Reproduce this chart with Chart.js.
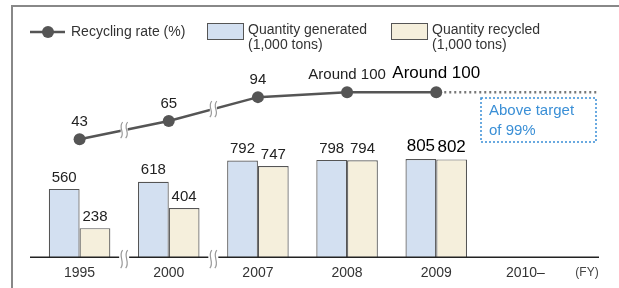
<!DOCTYPE html>
<html>
<head>
<meta charset="utf-8">
<script src="https://cdn.jsdelivr.net/npm/chart.js@4/dist/chart.umd.min.js"></script>
<style>
  html, body { margin: 0; padding: 0; background: #fff; }
  #wrap { width: 619px; height: 288px; position: relative; }
</style>
</head>
<body>
<div id="wrap"><canvas id="chart"></canvas></div>
<script>
// données du graphique
const years = ['1995', '2000', '2007', '2008', '2009', '2010\u2013'];
const generated = [560, 618, 792, 798, 805, null];
const recycled = [238, 404, 747, 794, 802, null];
const rate = [43, 65, 94, 100, 100, null];
const rateLabels = ['43', '65', '94', 'Around 100', 'Around 100'];

const FONT = '"Liberation Sans", Arial, sans-serif';

// cadre + légende dessinés à la main
const decorPlugin = {
  id: 'decor',
  beforeDraw(chart) {
    const ctx = chart.ctx;
    ctx.save();
    ctx.fillStyle = '#fff';
    ctx.fillRect(0, 0, chart.width, chart.height);
    // cadre gris
    ctx.strokeStyle = '#888';
    ctx.lineWidth = 2;
    ctx.beginPath();
    ctx.moveTo(12, 300);
    ctx.lineTo(12, 6);
    ctx.lineTo(640, 6);
    ctx.stroke();

    // légende
    ctx.strokeStyle = '#555';
    ctx.lineWidth = 2.5;
    ctx.beginPath();
    ctx.moveTo(30, 32);
    ctx.lineTo(65, 32);
    ctx.stroke();
    ctx.fillStyle = '#555';
    ctx.beginPath();
    ctx.arc(48, 32, 6, 0, Math.PI * 2);
    ctx.fill();

    ctx.font = '14px ' + FONT;
    ctx.fillStyle = '#333';
    ctx.textBaseline = 'middle';
    ctx.textAlign = 'left';
    ctx.fillText('Recycling rate (%)', 71, 32);

    ctx.lineWidth = 1;
    ctx.strokeStyle = '#555';
    ctx.fillStyle = '#d3e0f1';
    ctx.fillRect(207.5, 23.5, 36, 16);
    ctx.strokeRect(207.5, 23.5, 36, 16);
    ctx.fillStyle = '#333';
    ctx.fillText('Quantity generated', 248, 30);
    ctx.fillText('(1,000 tons)', 248, 45);

    ctx.fillStyle = '#f5efdc';
    ctx.fillRect(391.5, 23.5, 36, 16);
    ctx.strokeRect(391.5, 23.5, 36, 16);
    ctx.fillStyle = '#333';
    ctx.fillText('Quantity recycled', 432, 30);
    ctx.fillText('(1,000 tons)', 432, 45);
    ctx.restore();
  },
  afterDatasetsDraw(chart) {
    const ctx = chart.ctx;
    const area = chart.chartArea;
    const xs = chart.scales.x;
    const base = area.bottom;
    ctx.save();

    // ligne de base
    ctx.strokeStyle = '#222';
    ctx.lineWidth = 1.5;
    ctx.beginPath();
    ctx.moveTo(30, base);
    ctx.lineTo(599, base);
    ctx.stroke();

    // (FY)
    ctx.font = '12px ' + FONT;
    ctx.fillStyle = '#444';
    ctx.textAlign = 'center';
    ctx.textBaseline = 'middle';
    ctx.fillText('(FY)', 587, 273);

    // pointillés après 2009
    const lineMeta = chart.getDatasetMeta(2);
    const p2009 = lineMeta.data[4];
    ctx.strokeStyle = '#777';
    ctx.lineWidth = 2.5;
    ctx.setLineDash([2, 3]);
    ctx.beginPath();
    ctx.moveTo(p2009.x + 8, p2009.y);
    ctx.lineTo(597, p2009.y);
    ctx.stroke();

    // encadré objectif
    ctx.strokeStyle = '#3a8fd6';
    ctx.lineWidth = 1.5;
    ctx.setLineDash([2, 2]);
    ctx.strokeRect(481, 98, 115, 44);
    ctx.setLineDash([]);
    ctx.fillStyle = '#3a8fd6';
    ctx.font = '15px ' + FONT;
    ctx.textAlign = 'left';
    ctx.fillText('Above target', 489, 111);
    ctx.fillText('of 99%', 489, 131);

    // cassures d'échelle
    function squiggle(x, y, h) {
      ctx.strokeStyle = '#fff';
      ctx.lineWidth = 7;
      ctx.beginPath();
      ctx.moveTo(x, y - 3);
      ctx.lineTo(x, y + 3);
      ctx.stroke();
      ctx.strokeStyle = '#999';
      ctx.lineWidth = 1.2;
      [-2.5, 2.5].forEach(function (dx) {
        ctx.beginPath();
        ctx.moveTo(x + dx + 1, y - h);
        ctx.bezierCurveTo(x + dx - 4, y - h / 3, x + dx + 4, y + h / 3, x + dx - 1, y + h);
        ctx.stroke();
      });
    }
    const pts = lineMeta.data;
    for (let k = 0; k < 2; k++) {
      const mx = (pts[k].x + pts[k + 1].x) / 2;
      const my = (pts[k].y + pts[k + 1].y) / 2;
      squiggle(mx, my, 8);
      const bx = (xs.getPixelForValue(k) + xs.getPixelForValue(k + 1)) / 2;
      ctx.strokeStyle = '#fff';
      ctx.lineWidth = 4;
      ctx.beginPath();
      ctx.moveTo(bx - 5, base);
      ctx.lineTo(bx + 5, base);
      ctx.stroke();
      squiggle(bx, base + 2, 9);
    }

    // étiquettes des barres
    ctx.textAlign = 'center';
    ctx.textBaseline = 'bottom';
    [0, 1].forEach(function (d) {
      const meta = chart.getDatasetMeta(d);
      const vals = d === 0 ? generated : recycled;
      meta.data.forEach(function (bar, i) {
        if (vals[i] == null) return;
        const last = i === 4;
        ctx.font = (last ? '17px ' : '15px ') + FONT;
        ctx.fillStyle = last ? '#000' : '#222';
        ctx.fillText(String(vals[i]), bar.x, bar.y - 4);
      });
    });

    // étiquettes de la courbe
    pts.forEach(function (p, i) {
      if (rate[i] == null) return;
      const last = i === 4;
      ctx.font = (last ? '17px ' : '15px ') + FONT;
      ctx.fillStyle = last ? '#000' : '#222';
      ctx.fillText(rateLabels[i], p.x, p.y - 10);
    });
    ctx.restore();
  }
};

const myChart = new Chart(document.getElementById('chart'), {
  data: {
    labels: years,
    datasets: [
      {
        type: 'bar',
        label: 'Quantity generated (1,000 tons)',
        data: generated,
        backgroundColor: '#d3e0f1',
        borderColor: '#555',
        borderWidth: 1.2,
        yAxisID: 'y',
        categoryPercentage: 0.69,
        barPercentage: 1,
        order: 2
      },
      {
        type: 'bar',
        label: 'Quantity recycled (1,000 tons)',
        data: recycled,
        backgroundColor: '#f5efdc',
        borderColor: '#555',
        borderWidth: 1.2,
        yAxisID: 'y',
        categoryPercentage: 0.69,
        barPercentage: 1,
        order: 2
      },
      {
        type: 'line',
        label: 'Recycling rate (%)',
        data: rate,
        borderColor: '#555',
        borderWidth: 2.5,
        pointRadius: 6,
        pointBackgroundColor: '#555',
        pointBorderWidth: 0,
        yAxisID: 'y2',
        spanGaps: false,
        order: 1
      }
    ]
  },
  options: {
    responsive: true,
    maintainAspectRatio: false,
    animation: false,
    layout: { padding: { left: 35, right: 49, top: 60, bottom: -2 } },
    plugins: { legend: { display: false }, tooltip: { enabled: false } },
    scales: {
      x: {
        grid: { display: false, drawTicks: false },
        border: { display: false },
        ticks: { color: '#333', font: { size: 14, family: FONT }, padding: 8 }
      },
      y: { display: false, min: 0, max: 1617 },
      y2: { display: false, min: -100, max: 139 }
    }
  },
  plugins: [decorPlugin]
});
</script>
</body>
</html>
